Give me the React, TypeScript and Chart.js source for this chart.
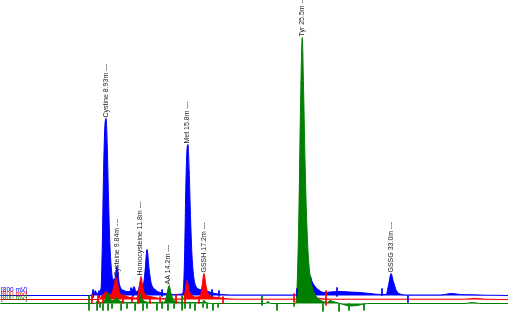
import React, { useEffect, useRef } from "react";
import { Chart, registerables } from "chart.js";

Chart.register(...registerables);

// Retention time axis (minutes)
const TIME_MIN = -0.03;
const TIME_MAX = 42.88;
// Signal axis (arbitrary detector units), channels offset so they stack
const SIG_MIN = 0;
const SIG_MAX = 314;
const OFFSET_BLUE = 18.5;
const OFFSET_RED = 14.5;
const OFFSET_GREEN = 10.5;

const BLUE = "#0000ff";
const RED = "#ff0000";
const GREEN = "#008000";

// Channel 1 (blue): [time, signal]
const blueTrace: [number, number][] = [
  [0, 0], [7.7, 0], [7.83, 4], [7.92, 1], [8.0, 5], [8.17, 2], [8.34, 3],
  [8.51, 8], [8.6, 45], [8.72, 125], [8.83, 170], [8.93, 177], [9.03, 150],
  [9.13, 100], [9.24, 55], [9.37, 28], [9.52, 16], [9.69, 18], [9.86, 29],
  [10.03, 13], [10.2, 7],
  [10.45, 5], [10.7, 4], [10.95, 4], [11.04, 8], [11.12, 5], [11.29, 9],
  [11.46, 4], [11.63, 5], [11.88, 14], [12.05, 10], [12.22, 24], [12.39, 46],
  [12.56, 27], [12.73, 13], [13.07, 6], [13.49, 3], [13.91, 2], [14.6, 1],
  [15.35, 1.5], [15.48, 10], [15.57, 45], [15.66, 105], [15.76, 145],
  [15.85, 151], [15.95, 125], [16.06, 80], [16.18, 42], [16.32, 20],
  [16.53, 9], [16.87, 6], [17.2, 5],
  [17.54, 4], [18.13, 2], [18.72, 1], [19.5, 0.5], [24.9, 0.5], [25.1, 3],
  [25.5, 20], [26.16, 20], [26.33, 14], [26.66, 8], [27.0, 4.5], [27.34, 3],
  [27.85, 3.5], [28.69, 4], [29.54, 3.5], [30.38, 3], [31.22, 2], [32.07, 1],
  [32.58, 1], [32.8, 11], [33.0, 22], [33.2, 14], [33.45, 5], [33.76, 1.5],
  [34.43, 0.5], [37.14, 0.5], [38.15, 2], [38.83, 1], [39.84, 0.7],
  [40.94, 0.3], [43, 0],
];

// Channel 2 (red)
const redTrace: [number, number][] = [
  [0, 0], [8.34, 0], [8.51, 3], [8.76, 6], [8.93, 8], [9.1, 5], [9.35, 5],
  [9.5, 9], [9.63, 16], [9.77, 22], [9.94, 13], [10.11, 6], [10.45, 4],
  [10.95, 2], [11.38, 1.5], [11.6, 3], [11.74, 13], [11.88, 23], [12.02, 13],
  [12.22, 5], [12.64, 3], [13.07, 2], [13.49, 1], [15.35, 0.5], [15.52, 2],
  [15.63, 10], [15.77, 19], [15.94, 9], [16.19, 4], [16.53, 2.5], [16.87, 3],
  [17.03, 13], [17.2, 26], [17.37, 14], [17.54, 6], [17.88, 3], [18.39, 2],
  [18.98, 1], [20.0, 0.3], [25.0, 0.3], [25.5, 5], [26.16, 3], [27.0, 1],
  [28.0, 0.3], [39.25, 0.3], [40.09, 1.2], [40.94, 0.3], [43, 0],
];

// Channel 3 (green)
const greenTrace: [number, number][] = [
  [0, 0], [8.0, 0], [8.25, 3], [8.42, 1], [8.8, 3], [8.93, 6], [9.1, 11],
  [9.27, 5], [9.43, 3], [9.69, 4], [9.86, 6], [10.03, 3], [10.28, 2],
  [10.62, 1], [11.46, 1], [11.63, 3], [11.8, 10], [11.96, 5], [12.22, 2],
  [12.8, 1], [13.66, 1], [13.91, 2], [14.08, 10], [14.25, 18], [14.42, 10],
  [14.59, 4], [14.84, 2], [15.43, 1], [17.04, 1], [17.2, 3], [17.37, 1],
  [18.0, 0], [22.4, 0], [22.61, 2], [22.85, 0], [24.9, 0], [24.99, 3],
  [25.1, 30], [25.23, 100], [25.36, 200], [25.5, 266], [25.62, 210],
  [25.74, 140], [25.87, 85], [26.0, 50], [26.16, 28], [26.41, 14],
  [26.75, 6], [27.17, 2.5],
  [27.59, 1], [27.85, 3], [28.1, 2], [28.69, 0], [29.11, -1.5], [29.54, -2.5],
  [30.13, -2], [30.72, -0.5], [31.0, 0], [39.25, 0], [39.84, 1], [40.5, 0],
  [43, 0],
];

// Integration event marks: [time, extent above, extent below]
const blueMarks: [number, number, number][] = [
  [7.83, 6, 2], [8.34, 5, 2], [11.21, 6, 1], [13.66, 6, 1], [17.88, 6, 1],
  [18.47, 5, 1], [25.06, 7, 1], [28.44, 8, 1], [32.24, 7, 0], [34.43, 0, 7],
];
const redMarks: [number, number, number][] = [
  [7.74, 5, 4], [8.25, 4, 4], [8.67, 3, 4], [10.36, 3, 4], [11.12, 3, 3],
  [11.63, 3, 4], [12.64, 3, 4], [13.49, 3, 3], [14.84, 5, 4], [15.6, 3, 4],
  [16.78, 3, 4], [18.81, 3, 4], [24.81, 6, 3], [27.51, 9, 6],
];
const greenMarks: [number, number, number][] = [
  [7.49, 8, 7], [8.17, 1, 7], [8.42, 1, 4], [8.67, 0, 7], [9.1, 0, 7],
  [9.43, 0, 5], [10.2, 0, 7], [10.7, 0, 5], [11.38, 0, 7], [12.05, 0, 7],
  [12.39, 0, 5], [13.23, 0, 7], [13.66, 2, 5], [14.16, 0, 7], [14.67, 0, 5],
  [15.35, 8, 7], [15.6, 0, 5], [16.02, 0, 5], [16.44, 0, 7], [17.12, 0, 4],
  [17.46, 0, 5], [17.96, 0, 7], [18.39, 0, 4], [22.1, 8, 2], [23.37, 0, 7],
  [24.81, 0, 3], [27.25, 0, 8], [28.61, 0, 8], [29.45, 0, 7], [30.72, 0, 7],
];

// Peak annotations
const peakNames = ["Cystine", "Cysteine", "Homocysteine", "AA", "Met", "GSSH", "Tyr", "GSSG"];
const peakTimes = [8.93, 9.84, 11.8, 14.2, 15.8, 17.2, 25.5, 33.0];
const peakTimeLabels = ["8.93m", "9.84m", "11.8m", "14.2m", "15.8m", "17.2m", "25.5m", "33.0m"];
const peakChannels = ["blue", "red", "red", "green", "blue", "red", "green", "blue"];

const rangeLabel = "[800 mV]";

const channels: Record<string, { trace: [number, number][]; offset: number; color: string; marks: [number, number, number][] }> = {
  blue: { trace: blueTrace, offset: OFFSET_BLUE, color: BLUE, marks: blueMarks },
  red: { trace: redTrace, offset: OFFSET_RED, color: RED, marks: redMarks },
  green: { trace: greenTrace, offset: OFFSET_GREEN, color: GREEN, marks: greenMarks },
};

const LABEL_FONT = '7px "Liberation Sans Narrow", "Arial Narrow", "Liberation Sans", sans-serif';

export default function App() {
  const ref = useRef<HTMLCanvasElement | null>(null);

  useEffect(() => {
    document.body.style.margin = "0";
    const canvas = ref.current;
    if (!canvas) return;

    const order = ["green", "red", "blue"]; // first drawn on top
    const traceSets = order.map((k, i) => {
      const ch = channels[k];
      return {
        type: "line" as const,
        label: k,
        data: ch.trace.map(([t, v]) => ({ x: t, y: ch.offset + v })),
        borderColor: ch.color,
        backgroundColor: ch.color,
        borderWidth: 1,
        pointRadius: 0,
        fill: { value: ch.offset },
        cubicInterpolationMode: "monotone" as const,
        order: 3 + i,
      };
    });
    const markSets = order.map((k, i) => {
      const ch = channels[k];
      const pts: { x: number; y: number | null }[] = [];
      ch.marks.forEach(([t, up, down]) => {
        pts.push({ x: t, y: ch.offset + up });
        pts.push({ x: t, y: ch.offset - down });
        pts.push({ x: t, y: null });
      });
      return {
        type: "line" as const,
        label: k + "-marks",
        data: pts,
        borderColor: ch.color,
        borderWidth: 1,
        pointRadius: 0,
        fill: false,
        spanGaps: false,
        order: i,
      };
    });

    const annotate = {
      id: "annotate",
      afterDatasetsDraw(chart: any) {
        const ctx = chart.ctx as CanvasRenderingContext2D;
        const xs = chart.scales.x;
        const ys = chart.scales.y;
        ctx.save();
        // peak labels
        ctx.font = LABEL_FONT;
        ctx.fillStyle = "#222";
        ctx.textAlign = "left";
        ctx.textBaseline = "middle";
        peakNames.forEach((name, i) => {
          const ch = channels[peakChannels[i]];
          const t = peakTimes[i];
          let top = 0;
          ch.trace.forEach(([tt, v]) => {
            if (Math.abs(tt - t) <= 0.1 && v > top) top = v;
          });
          const px = xs.getPixelForValue(t);
          const py = ys.getPixelForValue(ch.offset + top) - 1;
          ctx.save();
          ctx.translate(px, py);
          ctx.rotate(-Math.PI / 2);
          ctx.fillText(`${name} ${peakTimeLabels[i]} ---`, 0, 0);
          ctx.restore();
        });
        // range labels
        ctx.font = '6.5px "Liberation Sans", Arial, sans-serif';
        ctx.textBaseline = "bottom";
        ["blue", "red", "green"].forEach((k) => {
          const ch = channels[k];
          ctx.fillStyle = ch.color;
          ctx.fillText(rangeLabel, 1, ys.getPixelForValue(ch.offset) - 2);
        });
        ctx.restore();
      },
    };

    const chart = new Chart(canvas, {
      type: "line",
      data: { datasets: [...markSets, ...traceSets] as any },
      options: {
        responsive: false,
        devicePixelRatio: 1,
        animation: false,
        layout: { padding: 0 },
        parsing: false as any,
        normalized: true,
        plugins: {
          legend: { display: false },
          tooltip: { enabled: false },
          filler: { propagate: false },
        },
        scales: {
          x: { type: "linear", min: TIME_MIN, max: TIME_MAX, display: false },
          y: { type: "linear", min: SIG_MIN, max: SIG_MAX, display: false },
        },
      },
      plugins: [annotate],
    });
    return () => chart.destroy();
  }, []);

  return (
    <div style={{ width: 508, height: 314 }}>
      <canvas ref={ref} width={508} height={314} style={{ display: "block" }} />
    </div>
  );
}
